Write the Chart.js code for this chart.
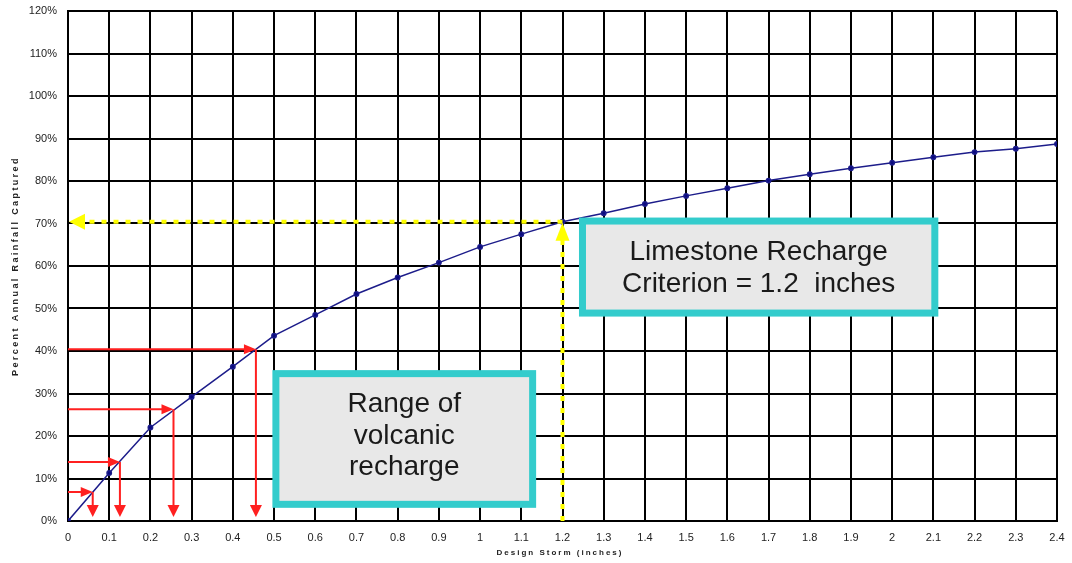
<!DOCTYPE html>
<html lang="en">
<head>
  <meta charset="UTF-8" />
  <title>Percent Annual Rainfall Captured</title>
  <script src="https://cdn.jsdelivr.net/npm/chart.js"></script>
  <style>
    html, body { margin: 0; padding: 0; background: #fff; }
    .chart-box { width: 1072px; height: 563px; position: relative; }
  </style>
</head>
<body>
  <div class="chart-box"><canvas id="rainChart"></canvas></div>

  <script>
    // Design storm depth (inches) and share of annual rainfall captured (%)
    const stormDepth = [0, 0.1, 0.2, 0.3, 0.4, 0.5, 0.6, 0.7, 0.8, 0.9, 1.0, 1.1, 1.2,
                        1.3, 1.4, 1.5, 1.6, 1.7, 1.8, 1.9, 2.0, 2.1, 2.2, 2.3, 2.4];
    const pctCaptured = [0, 11.3, 22.0, 29.2, 36.3, 43.6, 48.5, 53.4, 57.3, 60.8, 64.5, 67.5, 70.4,
                         72.4, 74.6, 76.5, 78.3, 80.1, 81.6, 83.0, 84.3, 85.6, 86.8, 87.6, 88.7];

    // Red read-offs: range of volcanic recharge
    const volcanicDepth = [0.06, 0.126, 0.256, 0.456];
    const volcanicPct = [6.8, 13.9, 26.3, 40.4];

    // Yellow read-off: limestone criterion
    const limestoneDepth = 1.2;
    const limestonePct = 70.4;

    // Callout text
    const volcanicBoxText = ["Range of", "volcanic", "recharge"];
    const limestoneBoxText = ["Limestone Recharge", "Criterion = 1.2  inches"];

    const yTitle = "Percent Annual Rainfall Captured";
    const xTitle = "Design Storm (inches)";

    const points = stormDepth.map((d, i) => ({ x: d, y: pctCaptured[i] }));

    function arrowHead(c, tipX, tipY, dir, len, half) {
      // dir: "right", "down", "left", "up"
      c.beginPath();
      c.moveTo(tipX, tipY);
      if (dir === "right") { c.lineTo(tipX - len, tipY - half); c.lineTo(tipX - len, tipY + half); }
      if (dir === "left")  { c.lineTo(tipX + len, tipY - half); c.lineTo(tipX + len, tipY + half); }
      if (dir === "down")  { c.lineTo(tipX - half, tipY - len); c.lineTo(tipX + half, tipY - len); }
      if (dir === "up")    { c.lineTo(tipX - half, tipY + len); c.lineTo(tipX + half, tipY + len); }
      c.closePath();
      c.fill();
    }

    function drawBox(c, sx, sy, x0, x1, y0, y1, lines, shift) {
      const l = sx.getPixelForValue(x0), r = sx.getPixelForValue(x1);
      const t = sy.getPixelForValue(y0), b = sy.getPixelForValue(y1);
      c.fillStyle = "#33cccc";
      c.fillRect(l, t, r - l, b - t);
      c.fillStyle = "#e8e8e8";
      c.fillRect(l + 7, t + 7, r - l - 14, b - t - 14);
      c.fillStyle = "#1a1a1a";
      c.font = "28px 'Liberation Sans', Arial, sans-serif";
      c.textAlign = "center";
      c.textBaseline = "alphabetic";
      const cx = (l + r) / 2, cy = (t + b) / 2;
      lines.forEach((txt, i) => {
        c.fillText(txt, cx, cy + (i - (lines.length - 1) / 2) * 31.5 + shift);
      });
    }

    const calloutPlugin = {
      id: "callouts",
      afterDatasetsDraw(chart) {
        const c = chart.ctx;
        const sx = chart.scales.x, sy = chart.scales.y;
        c.save();

        // red arrows
        c.strokeStyle = "#ff2020";
        c.fillStyle = "#ff2020";
        c.lineWidth = 2;
        volcanicDepth.forEach((d, i) => {
          const px = sx.getPixelForValue(d);
          const py = sy.getPixelForValue(volcanicPct[i]);
          const x0 = sx.getPixelForValue(0);
          const yb = sy.getPixelForValue(0);
          c.beginPath();
          c.moveTo(x0, py); c.lineTo(px - 10, py);
          c.moveTo(px, py); c.lineTo(px, yb - 14);
          c.stroke();
          arrowHead(c, px, py, "right", 12, 5);
          arrowHead(c, px, yb - 4, "down", 12, 6);
        });

        // yellow dotted arrows
        const lx = sx.getPixelForValue(limestoneDepth);
        const ly = sy.getPixelForValue(limestonePct);
        const ax0 = sx.getPixelForValue(0);
        const ay0 = sy.getPixelForValue(0);
        c.strokeStyle = "#ffff00";
        c.fillStyle = "#ffff00";
        c.lineWidth = 4;
        c.setLineDash([5, 7]);
        c.beginPath();
        c.moveTo(lx, ly); c.lineTo(ax0 + 14, ly);
        c.moveTo(lx, ay0); c.lineTo(lx, ly + 18);
        c.stroke();
        c.setLineDash([]);
        arrowHead(c, ax0 + 1, ly, "left", 16, 8);
        arrowHead(c, lx, ly + 1, "up", 18, 7);

        c.restore();
      },
      afterDraw(chart) {
        const c = chart.ctx;
        const sx = chart.scales.x, sy = chart.scales.y;
        c.save();
        drawBox(c, sx, sy, 0.496, 1.136, 35.5, 3.1, volcanicBoxText, 5);
        drawBox(c, sx, sy, 1.240, 2.112, 71.4, 48.1, limestoneBoxText, 9);

        // axis titles (spaced out like the original)
        c.fillStyle = "#222";
        c.font = "bold 9px 'Liberation Sans', Arial, sans-serif";
        c.textAlign = "center";
        c.textBaseline = "middle";
        c.letterSpacing = "2.4px";
        c.save();
        c.translate(16, 266);
        c.rotate(-Math.PI / 2);
        c.fillText(yTitle, 0, 0);
        c.restore();
        c.font = "bold 8px 'Liberation Sans', Arial, sans-serif";
        c.letterSpacing = "2px";
        c.fillText(xTitle, 560, 553);
        c.restore();
      }
    };

    new Chart(document.getElementById("rainChart"), {
      type: "line",
      data: {
        datasets: [{
          label: "Percent captured",
          data: points,
          borderColor: "#1c1c8a",
          backgroundColor: "#0a0a80",
          borderWidth: 1.5,
          pointRadius: 2.2,
          pointHoverRadius: 2.2,
          tension: 0,
          fill: false
        }]
      },
      options: {
        responsive: true,
        maintainAspectRatio: false,
        animation: false,
        layout: { padding: { top: 11, right: 15, left: 0, bottom: 0 } },
        plugins: { legend: { display: false }, tooltip: { enabled: false } },
        scales: {
          x: {
            type: "linear",
            min: 0,
            max: 2.4,
            afterFit: s => { s.height = 42; s.paddingLeft = 0; s.paddingRight = 0; },
            grid: { color: "#000", lineWidth: 2, drawTicks: false },
            border: { color: "#000", width: 2 },
            ticks: {
              stepSize: 0.1,
              padding: 10,
              color: "#222",
              font: { size: 11, family: "'Liberation Sans', Arial, sans-serif" },
              callback: v => String(Number(v.toFixed(1)))
            }
          },
          y: {
            min: 0,
            max: 120,
            afterFit: s => { s.width = 68; s.paddingTop = 0; s.paddingBottom = 0; },
            grid: { color: "#000", lineWidth: 2, drawTicks: false },
            border: { color: "#000", width: 2 },
            ticks: {
              stepSize: 10,
              padding: 11,
              color: "#222",
              font: { size: 11, family: "'Liberation Sans', Arial, sans-serif" },
              callback: v => v + "%"
            }
          }
        }
      },
      plugins: [calloutPlugin]
    });
  </script>
</body>
</html>
